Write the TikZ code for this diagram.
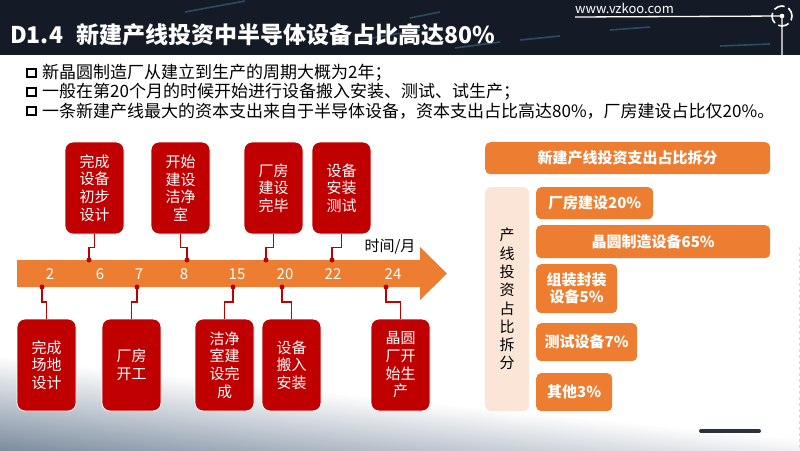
\documentclass[tikz,border=0pt]{standalone}
\usepackage{fontspec}
\setmainfont{Noto Sans CJK SC}
\usetikzlibrary{calc}
\definecolor{rd}{HTML}{C00000}
\definecolor{org}{HTML}{ED7D31}
\definecolor{peach}{HTML}{FBE5D6}
\definecolor{navy}{HTML}{151B26}
\definecolor{bgb}{HTML}{6A7C92}
\definecolor{streak}{HTML}{4FA9D6}
\tikzset{
  redbox/.style={draw=white, line width=0.8pt, fill=rd, rounded corners=8pt, text=white,
    align=center, font=\fontsize{15}{17.6}\selectfont, inner sep=0pt,
    minimum width=59pt, minimum height=92pt},
  conn/.style={draw=rd, line width=1.3pt},
  tdot/.style={circle, fill=rd, inner sep=0pt, minimum size=5pt},
  num/.style={text=white, font=\fontsize{15}{15}\selectfont},
  obar/.style={fill=org, rounded corners=5pt, text=white, align=center,
    font=\fontsize{15}{17}\selectfont\bfseries, inner sep=0pt, anchor=north west},
  btxt/.style={anchor=west, font=\fontsize{17}{17}\selectfont, inner sep=0pt},
  bsq/.style={draw=black, fill=white, line width=2.3pt, minimum size=8.5pt, inner sep=0pt}
}
\begin{document}
\begin{tikzpicture}[x=1pt,y=-1pt]
\useasboundingbox (0,0) rectangle (800,450);
% bottom background gradient (layered bands)
\foreach \k in {0,...,45}{
  \pgfmathtruncatemacro{\pc}{min(100,2*\k+2)}
  \pgfmathsetmacro{\ya}{357+2.15*\k}
  \pgfmathsetmacro{\yb}{387+2.15*\k}
  \pgfmathsetmacro{\yc}{417+2.15*\k}
  \pgfmathsetmacro{\yd}{440+2.15*\k}
  \fill[bgb!\pc!white]
    (0,\ya) .. controls (250,\yb) and (560,\yc) .. (800,\yd)
    -- (800,480) -- (0,480) -- cycle;
}
% header band
\fill[navy] (0,0) rectangle (800,55);
\begin{scope}[line width=1.6pt, opacity=0.35]
  \draw[streak] (185,12) -- (245,1);
  \draw[streak] (360,40) -- (420,30);
  \draw[streak] (410,18) -- (440,12);
  \draw[streak] (455,48) -- (500,42);
  \draw[streak] (520,40) -- (560,36);
  \draw[streak] (610,30) -- (650,27);
  \draw[streak] (720,46) -- (770,44);
\end{scope}
\node[anchor=base west, text=white, font=\fontsize{23}{23}\selectfont\bfseries, inner sep=0pt]
  (title) at (10,43) {D1.4\hspace{13pt}新建产线投资中半导体设备占比高达80\%};
% logo
\node[anchor=base west, text=white, font=\fontsize{13}{13}\selectfont, inner sep=0pt]
  (web) at (575,13) {www.vzkoo.com};
\coordinate (lg) at (782,16);
\draw[white, line width=1.3pt] (575,17) -- (lg) -- (782,55);
\fill[white] (lg) circle (2.3pt);
\draw[white, line width=1.6pt, dash pattern=on 11pt off 4pt, dash phase=2pt] (lg) circle (10pt);
% bullets
\foreach \yy/\tx in {73/新晶圆制造厂从建立到生产的周期大概为2年；,
                     92/一般在第20个月的时候开始进行设备搬入安装、测试、试生产；,
                     111/一条新建产线最大的资本支出来自于半导体设备，资本支出占比高达80\%，厂房建设占比仅20\%。}{
  \node[bsq] at (31.5,\yy) {};
  \node[btxt] at (42,\yy) {\tx};
}
% timeline arrow
\fill[org] (17,260) -- (420,260) -- (420,247) -- (447,273.5) -- (420,300) -- (420,287) -- (17,287) -- cycle;
\node[font=\fontsize{15}{15}\selectfont, text=black] (axl) at (390,247) {时间/月};
\foreach \xx/\nn in {50/2,100/6,139/7,184/8,237/15,285/20,333/22,393/24}{
  \node[num] at (\xx,274) {\nn};
}
% top boxes
\node[redbox] (t1) at (94.5,188) {完成\\设备\\初步\\设计};
\node[redbox] (t2) at (180.5,188) {开始\\建设\\洁净\\室};
\node[redbox] (t3) at (273.5,188) {厂房\\建设\\完毕};
\node[redbox] (t4) at (341.5,188) {设备\\安装\\测试};
\node[tdot] (dt1) at (89,260) {};
\node[tdot] (dt2) at (187,260) {};
\node[tdot] (dt3) at (266,260) {};
\node[tdot] (dt4) at (332,260) {};
\foreach \i in {1,2,3,4}{
  \draw[conn] (t\i.south) -- ++(0,13) -| (dt\i.center);
}
% bottom boxes
\node[redbox] (b1) at (46.5,365) {完成\\场地\\设计};
\node[redbox] (b2) at (131.5,365) {厂房\\开工};
\node[redbox] (b3) at (224.5,365) {洁净\\室建\\设完\\成};
\node[redbox] (b4) at (291.5,365) {设备\\搬入\\安装};
\node[redbox] (b5) at (400.5,365) {晶圆\\厂开\\始生\\产};
\node[tdot] (db1) at (42,287) {};
\node[tdot] (db2) at (137,287) {};
\node[tdot] (db3) at (233,287) {};
\node[tdot] (db4) at (282,287) {};
\node[tdot] (db5) at (386,287) {};
\foreach \i in {1,2,3,4,5}{
  \draw[conn] (db\i.center) -- ++(0,15) -| (b\i.north);
}
% right panel
\node[obar, minimum width=285pt, minimum height=32pt] (hd) at (485,142) {新建产线投资支出占比拆分};
\node[fill=peach, rounded corners=6pt, anchor=north west, inner sep=0pt,
  minimum width=44pt, minimum height=224pt] (vp) at (485,187) {};
\node[align=center, font=\fontsize{15}{18.3}\selectfont, text=black, inner sep=0pt] (vt) at (vp.center)
  {产\\线\\投\\资\\占\\比\\拆\\分};
\node[obar, minimum width=117pt, minimum height=32pt] (r1) at (536,187) {厂房建设20\%};
\node[obar, minimum width=234pt, minimum height=33pt] (r2) at (536,225) {晶圆制造设备65\%};
\node[obar, minimum width=81pt, minimum height=49pt] (r3) at (536,264) {组装封装\\设备5\%};
\node[obar, minimum width=101pt, minimum height=38pt] (r4) at (536,323) {测试设备7\%};
\node[obar, minimum width=76pt, minimum height=38pt] (r5) at (536,373) {其他3\%};
% decorations
\draw[navy!90, line width=4pt, line cap=round] (701,431) -- (759,431);
\draw[gray!30, dashed, line width=0.6pt] (799,247) -- (799,450);
\end{tikzpicture}
\end{document}
